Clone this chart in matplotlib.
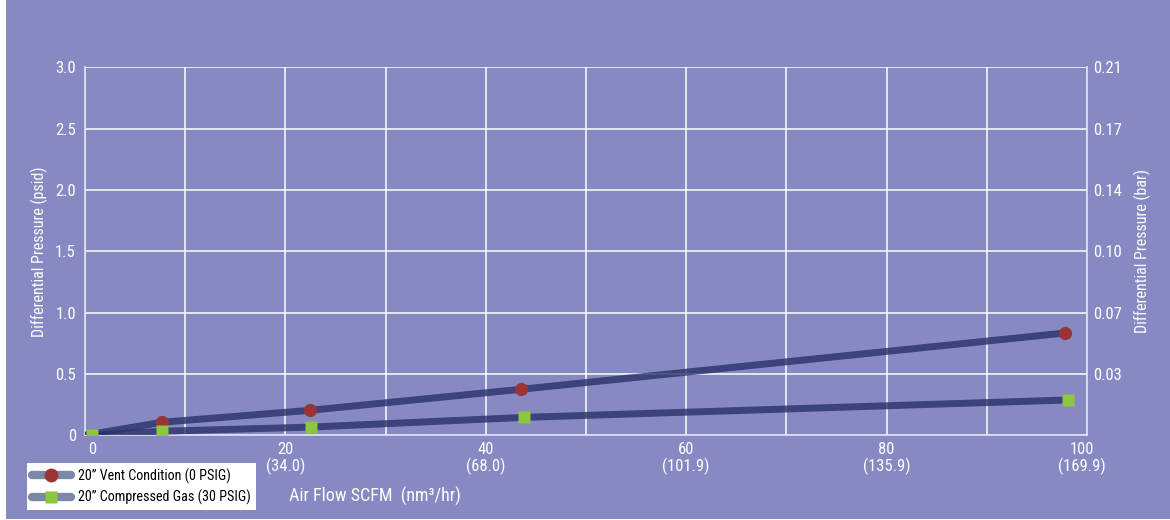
import matplotlib
matplotlib.use('Agg')
import matplotlib.pyplot as plt
from matplotlib.lines import Line2D
from matplotlib.patches import Rectangle
from matplotlib.transforms import ScaledTranslation

plt.rcParams['font.family'] = ['Roboto Condensed', 'Roboto', 'DejaVu Sans']

BG = '#8789c3'
LINE = '#2a3068'
RED = '#9b3434'
GREEN = '#8dc63f'

# data
vent_x = [0, 7.65, 22.5, 43.5, 97.8]
vent_y = [0, 0.106, 0.204, 0.375, 0.834]
gas_x = [0, 0.7, 7.7, 22.6, 43.8, 98.1]
gas_y = [0, 0.0, 0.033, 0.067, 0.146, 0.288]

x_ticks = [0, 20, 40, 60, 80, 100]
x_labels = ['0', '20\n(34.0)', '40\n(68.0)', '60\n(101.9)', '80\n(135.9)', '100\n(169.9)']
y_ticks = [0, 0.5, 1.0, 1.5, 2.0, 2.5, 3.0]
y_labels = ['0', '0.5', '1.0', '1.5', '2.0', '2.5', '3.0']
bar_labels = ['', '0.03', '0.07', '0.10', '0.14', '0.17', '0.21']

fig = plt.figure(figsize=(11.7, 5.2), dpi=100)
fig.patch.set_facecolor('white')
fig.patches.append(Rectangle((6 / 1170, 1 / 520), 1, 1, transform=fig.transFigure,
                             facecolor=BG, edgecolor='none', zorder=-10))

ax = fig.add_axes([85 / 1170, 1 - 435.3 / 520, 1002 / 1170, 368 / 520])
ax.set_facecolor(BG)
ax.set_xlim(0, 100)
ax.set_ylim(0, 3.0)

# grid every 10 in x, every 0.5 in y
ax.set_xticks(range(0, 101, 10), minor=True)
ax.grid(True, which='both', axis='x', color='white', lw=1.1)
ax.grid(True, which='major', axis='y', color='white', lw=1.1)
ax.set_axisbelow(True)
ax.spines['top'].set_visible(False)
for s in ['left', 'right', 'bottom']:
    ax.spines[s].set_color('#dcdcf0')
    ax.spines[s].set_linewidth(1.3)

ax.plot(vent_x, vent_y, color=LINE, lw=5, alpha=0.8, solid_capstyle='round', zorder=3)
ax.plot(gas_x, gas_y, color=LINE, lw=5, alpha=0.8, solid_capstyle='round', zorder=3)
ax.plot(vent_x[1:], vent_y[1:], 'o', color=RED, ms=9.5, mec='none', zorder=4)
ax.plot(gas_x[1:], gas_y[1:], 's', color=GREEN, ms=9, mec='none', zorder=4)

ax.set_xticks(x_ticks)
ax.set_xticklabels(x_labels, color='white', fontsize=12, linespacing=1.0)
ax.set_yticks(y_ticks)
ax.set_yticklabels(y_labels, color='white', fontsize=12)
ax.tick_params(axis='both', which='both', length=0)
ax.tick_params(axis='y', pad=6.5)
ax.tick_params(axis='x', pad=5)
ax.set_ylabel('Differential Pressure (psid)', color='white', fontsize=11.5)
ax.yaxis.set_label_coords(-0.037, 0.5)

# end labels sit a little inside the axis ends
xl = ax.get_xticklabels()
xl[0].set_transform(xl[0].get_transform() + ScaledTranslation(7 / 100, 0, fig.dpi_scale_trans))
xl[-1].set_transform(xl[-1].get_transform() + ScaledTranslation(-5 / 100, 0, fig.dpi_scale_trans))

ax2 = ax.twinx()
ax2.set_ylim(0, 3.0)
ax2.set_yticks(y_ticks)
ax2.set_yticklabels(bar_labels, color='white', fontsize=12)
ax2.tick_params(axis='y', length=0, pad=4.5)
for s in ax2.spines.values():
    s.set_visible(False)
ax2.set_ylabel('Differential Pressure (bar)', color='white', fontsize=11.5)
ax2.yaxis.set_label_coords(1.047, 0.5)

ax.text(28.9, -0.5, 'Air Flow SCFM  (nm\u00b3/hr)', color='white', fontsize=13,
        ha='center', va='center', clip_on=False)

handles = [
    Line2D([], [], color='#7b87a9', lw=6, marker='o', ms=10, mfc=RED, mec='none',
           solid_capstyle='round'),
    Line2D([], [], color='#7b87a9', lw=6, marker='s', ms=9, mfc=GREEN, mec='none',
           solid_capstyle='round'),
]
leg = ax.legend(handles, ['20\u201d Vent Condition (0 PSIG)', '20\u201d Compressed Gas (30 PSIG)'],
                loc='upper left', bbox_to_anchor=(-0.058, -0.075), borderaxespad=0,
                frameon=True, fancybox=False, fontsize=10.2, handlelength=2.7,
                labelspacing=0.42, borderpad=0.38, handletextpad=0.5)
leg.get_frame().set_facecolor('white')
leg.get_frame().set_edgecolor('none')
leg.get_frame().set_alpha(1)

fig.savefig('out.png', dpi=100, facecolor=fig.get_facecolor())
